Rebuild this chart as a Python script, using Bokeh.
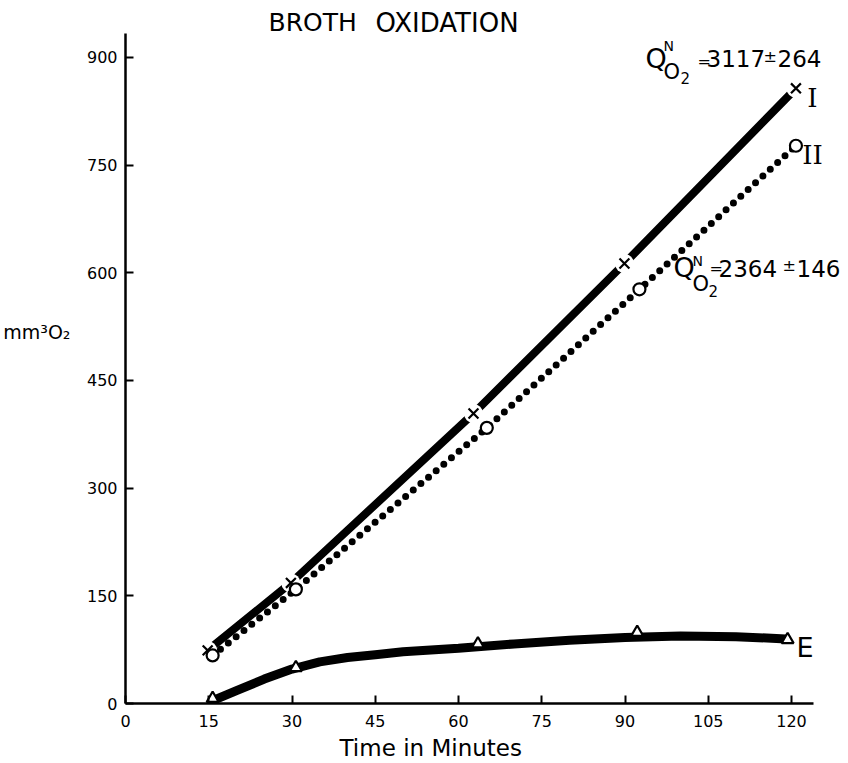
from bokeh.plotting import figure
from bokeh.models import Label, Range1d, FixedTicker, LinearAxis
from bokeh.embed import file_html
from bokeh.resources import INLINE

# ---- data ----
x_ticks = [0, 15, 30, 45, 60, 75, 90, 105, 120]
y_ticks = [0, 150, 300, 450, 600, 750, 900]

I_x = [14.8, 29.8, 62.7, 89.9, 120.8]
I_y = [74, 168, 404, 613, 857]

II_x = [15.7, 30.7, 65.1, 92.6, 120.8]
II_y = [67, 159, 384, 577, 777]

E_x = [15.7, 30.7, 63.5, 92.2, 119.3]
E_y = [7, 50, 83, 99, 89]

# fitted curve E as drawn
E_curve_x = [15.7, 20, 25, 30, 35, 40, 45, 50, 60, 70, 80, 90, 100, 110, 119]
E_curve_y = [4, 18, 34, 48, 58, 64, 68, 72, 77, 83, 88, 92, 94, 93, 90]

x_axis_end = 124
y_axis_end = 934

FONT = "DejaVu Sans"
W, H = 848, 763
FL, FB = 125, 703            # frame left / bottom in page px
PX_X, PX_Y = 5.55, 0.7178    # px per data unit

p = figure(width=W, height=H, output_backend="svg", toolbar_location=None,
           x_range=Range1d(0, (W - FL) / PX_X), y_range=Range1d(0, FB / PX_Y),
           min_border_left=FL, min_border_right=0, min_border_top=0,
           min_border_bottom=H - FB)
p.title.text = ""
p.outline_line_color = None
p.xgrid.visible = False
p.ygrid.visible = False
p.background_fill_color = "white"
p.border_fill_color = "white"

for ax in (p.xaxis[0], p.yaxis[0]):
    ax.axis_line_width = 2.5
    ax.axis_line_color = "black"
    ax.major_tick_in = 8
    ax.major_tick_out = 0
    ax.major_tick_line_width = 2
    ax.minor_tick_line_color = None
    ax.major_label_text_font = FONT
    ax.major_label_text_font_size = "16px"
    ax.major_label_text_color = "black"
p.xaxis[0].ticker = FixedTicker(ticks=x_ticks)
p.yaxis[0].ticker = FixedTicker(ticks=y_ticks)
p.xaxis[0].bounds = (0, x_axis_end)
p.yaxis[0].bounds = (0, y_axis_end)
p.xaxis[0].major_label_standoff = 11
p.yaxis[0].major_label_standoff = 8

# axis titles as outer axes carrying a single labelled tick
x_title_at = 55.0
y_title_at = 517
xt = LinearAxis(ticker=FixedTicker(ticks=[x_title_at]),
                major_label_overrides={x_title_at: "Time in Minutes"})
yt = LinearAxis(ticker=FixedTicker(ticks=[y_title_at]),
                major_label_overrides={y_title_at: "mm³O₂"})
for ax in (xt, yt):
    ax.axis_line_color = None
    ax.major_tick_line_color = None
    ax.minor_tick_line_color = None
    ax.major_label_text_font = FONT
    ax.major_label_text_color = "black"
xt.major_label_text_font_size = "23px"
xt.major_label_standoff = -1
yt.major_label_text_font_size = "19px"
yt.major_label_standoff = 7
p.add_layout(xt, "below")
p.add_layout(yt, "left")

# Curve I: thick solid with gaps at markers
p.line(I_x, I_y, line_width=8, line_color="black")
p.scatter(I_x, I_y, marker="circle", size=19, fill_color="white", line_color=None)
p.scatter(I_x, I_y, marker="x", size=14, line_color="black", line_width=2.2)

# Curve II: dotted
p.line(II_x, II_y, line_width=7, line_color="black", line_dash="0 10", line_cap="round")
p.scatter(II_x, II_y, marker="circle", size=12, fill_color="white", line_color="black", line_width=2.2)

# Curve E
p.line(E_curve_x, E_curve_y, line_width=9, line_color="black")
p.scatter(E_x, E_y, marker="triangle", size=12, fill_color="white", line_color="black", line_width=2.2)


def dx(px):
    return (px - FL) / PX_X


def dy(py):
    return (FB - py) / PX_Y


def lab(px, py, t, size, font=FONT, align="left"):
    p.add_layout(Label(x=dx(px), y=dy(py), text=t, text_font=font, text_font_size=size,
                       text_align=align, text_baseline="middle", text_color="black"))


# title
lab(268, 22, "BROTH", "25px")
lab(375, 22, "OXIDATION", "26px")

# Q annotations
lab(645, 58, "Q", "27px")
lab(663, 45, "N", "14px")
lab(663, 71, "O", "21px")
lab(680, 77, "2", "15px")
lab(697, 61, "=", "16px")
lab(706, 58, "3117", "23px")
lab(763, 56, "±", "16px")
lab(777, 58, "264", "23px")

lab(673, 267, "Q", "27px")
lab(692, 260, "N", "14px")
lab(692, 283, "O", "21px")
lab(708, 290, "2", "15px")
lab(709, 268, "=", "16px")
lab(718, 268, "2364", "23px")
lab(782, 265, "±", "16px")
lab(796, 268, "146", "23px")

lab(812, 97, "I", "26px", font="DejaVu Serif", align="center")
lab(812, 154, "II", "26px", font="DejaVu Serif", align="center")
lab(796, 647, "E", "27px")

open("out.html", "w").write(file_html(p, INLINE))
